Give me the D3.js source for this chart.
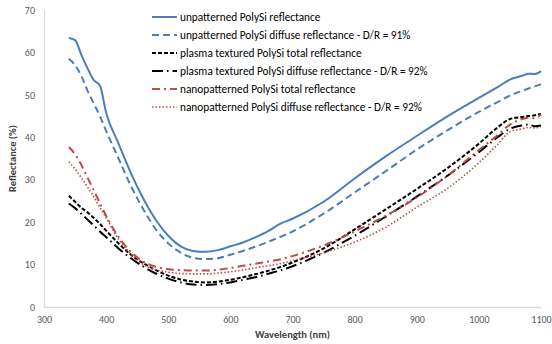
<!DOCTYPE html>
<html>
<head>
<meta charset="utf-8">
<script src="https://cdn.jsdelivr.net/npm/d3@7"></script>
<style>
  body { margin: 0; background: #fff; }
  text { font-family: Calibri, Carlito, Lato, sans-serif; }
</style>
</head>
<body>
<div id="chart"></div>
<script>
const wavelength = [340, 350, 360, 370, 380, 390, 400, 420, 440, 460, 480, 500, 520, 540, 560, 580, 600, 620, 640, 660, 680, 700, 750, 800, 850, 900, 950, 1000, 1030, 1050, 1070, 1080, 1090, 1100];

const unpatternedTotal = [63.4, 62.9, 59.5, 56.3, 53.5, 52.2, 45.8, 38.5, 31.5, 25.5, 20.5, 16.8, 14.3, 13.2, 13.0, 13.4, 14.3, 15.2, 16.4, 17.8, 19.6, 20.8, 24.8, 30.3, 35.5, 40.3, 45.0, 49.3, 51.8, 53.6, 54.5, 55.0, 54.9, 55.6];
const unpatternedDiffuse = [58.5, 57.0, 54.5, 51.0, 48.0, 45.0, 41.5, 35.0, 28.5, 23.0, 18.3, 15.0, 12.8, 11.6, 11.3, 11.5, 12.3, 13.2, 14.2, 15.3, 16.5, 17.8, 22.0, 27.0, 32.0, 37.1, 41.7, 46.0, 48.3, 49.8, 51.0, 51.5, 52.0, 52.5];
const plasmaTotal = [26.2, 24.8, 23.4, 22.3, 21.0, 19.6, 18.0, 15.0, 12.3, 10.3, 8.7, 7.4, 6.5, 6.0, 5.8, 6.0, 6.4, 7.0, 7.7, 8.5, 9.4, 10.5, 13.8, 18.3, 23.0, 27.8, 32.8, 38.5, 42.3, 44.3, 44.8, 45.0, 45.2, 45.5];
const plasmaDiffuse = [24.4, 23.3, 22.0, 20.6, 19.2, 17.8, 16.5, 13.8, 11.5, 9.5, 7.9, 6.7, 5.8, 5.3, 5.2, 5.4, 5.8, 6.4, 7.0, 7.8, 8.6, 9.6, 12.8, 16.8, 21.3, 26.0, 31.0, 36.5, 40.0, 42.0, 42.8, 43.0, 42.6, 42.8];
const nanoTotal = [37.7, 36.0, 33.5, 30.5, 27.5, 24.5, 21.5, 16.5, 13.0, 10.7, 9.5, 8.9, 8.7, 8.6, 8.6, 8.8, 9.2, 9.7, 10.2, 10.7, 11.2, 12.0, 14.5, 17.8, 21.5, 25.8, 31.0, 37.0, 40.5, 43.0, 44.3, 44.6, 44.5, 45.4];
const nanoDiffuse = [34.2, 32.5, 30.5, 28.3, 26.0, 23.5, 21.0, 16.0, 12.5, 10.0, 8.8, 8.2, 7.9, 7.8, 7.8, 8.0, 8.3, 8.7, 9.2, 9.7, 10.2, 10.9, 12.8, 15.3, 18.8, 23.5, 28.0, 34.0, 38.3, 41.3, 42.0, 42.3, 42.2, 42.5];

const xTicks = [300, 400, 500, 600, 700, 800, 900, 1000, 1100];
const yTicks = [0, 10, 20, 30, 40, 50, 60, 70];

const seriesNames = [
  'unpatterned PolySi reflectance',
  'unpatterned PolySi diffuse reflectance - D/R = 91%',
  'plasma textured PolySi total reflectance',
  'plasma textured PolySi diffuse reflectance - D/R = 92%',
  'nanopatterned PolySi total reflectance',
  'nanopatterned PolySi diffuse reflectance - D/R = 92%'
];
const seriesValues = [unpatternedTotal, unpatternedDiffuse, plasmaTotal, plasmaDiffuse, nanoTotal, nanoDiffuse];

// line styles
const styles = [
  { color: '#4a7ebb', width: 2, dash: null },
  { color: '#4a7ebb', width: 2, dash: '7,4' },
  { color: '#000000', width: 2, dash: '4,2' },
  { color: '#000000', width: 2, dash: '11,4,1.5,4' },
  { color: '#be4b48', width: 2, dash: '8,4,2,4' },
  { color: '#be4b48', width: 1.6, dash: '1.5,2' }
];

const width = 552, height = 344;
const margin = { top: 10, right: 11, bottom: 37, left: 44 };

const svg = d3.select('#chart').append('svg')
  .attr('width', width)
  .attr('height', height);

const x = d3.scaleLinear().domain([300, 1100]).range([margin.left, width - margin.right]);
const y = d3.scaleLinear().domain([0, 70]).range([height - margin.bottom, margin.top]);

// axes
const xAxis = svg.append('g')
  .attr('transform', 'translate(0,' + y(0) + ')')
  .call(d3.axisBottom(x).tickValues(xTicks).tickSize(0).tickPadding(9).tickFormat(d3.format('d')));
xAxis.select('.domain').attr('stroke', '#d9d9d9').attr('stroke-width', 1.3);
xAxis.selectAll('text').attr('fill', '#595959').style('font-size', '10px');

const yAxis = svg.append('g')
  .attr('transform', 'translate(' + x(300) + ',0)')
  .call(d3.axisLeft(y).tickValues(yTicks).tickSize(0).tickPadding(9));
yAxis.select('.domain').attr('stroke', '#d9d9d9').attr('stroke-width', 1.3);
yAxis.selectAll('text').attr('fill', '#595959').style('font-size', '10px');

// axis titles
svg.append('text')
  .attr('x', (x(300) + x(1100)) / 2)
  .attr('y', 338)
  .attr('text-anchor', 'middle')
  .style('font-size', '10.5px')
  .style('font-weight', 'bold')
  .attr('fill', '#404040')
  .text('Wavelength (nm)');

svg.append('text')
  .attr('transform', 'translate(16,' + ((y(0) + y(70)) / 2) + ') rotate(-90)')
  .attr('text-anchor', 'middle')
  .style('font-size', '10.5px')
  .style('font-weight', 'bold')
  .attr('fill', '#404040')
  .text('Reflectance (%)');

// lines
const line = d3.line()
  .x((d, i) => x(wavelength[i]))
  .y(d => y(d))
  .curve(d3.curveMonotoneX);

seriesValues.forEach((vals, k) => {
  const s = styles[k];
  svg.append('path')
    .datum(vals)
    .attr('fill', 'none')
    .attr('stroke', s.color)
    .attr('stroke-width', s.width)
    .attr('stroke-dasharray', s.dash)
    .attr('d', line);
});

// legend
const legend = svg.append('g').attr('transform', 'translate(152,17)');
seriesNames.forEach((name, k) => {
  const s = styles[k];
  const row = legend.append('g').attr('transform', 'translate(0,' + (k * 18) + ')');
  row.append('line')
    .attr('x1', 0).attr('x2', 25)
    .attr('stroke', s.color)
    .attr('stroke-width', s.width)
    .attr('stroke-dasharray', s.dash);
  row.append('text')
    .attr('x', 28)
    .attr('dy', '0.35em')
    .style('font-size', '11.3px')
    .attr('fill', '#000')
    .text(name);
});
</script>
</body>
</html>
